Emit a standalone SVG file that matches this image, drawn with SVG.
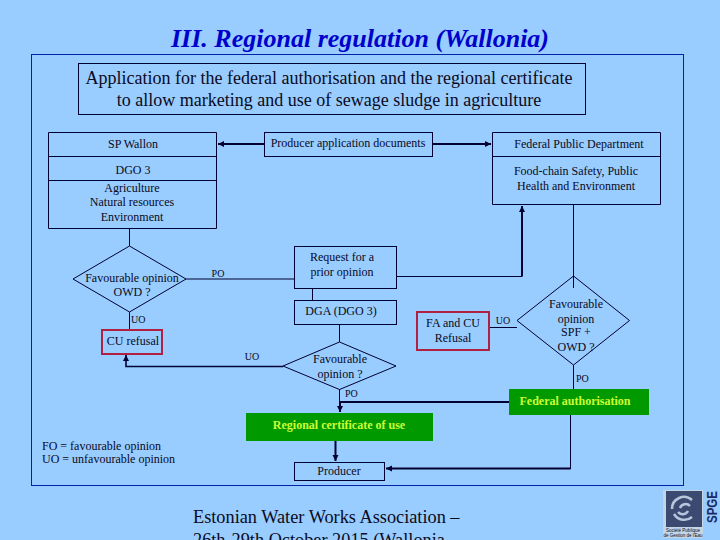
<svg xmlns="http://www.w3.org/2000/svg" width="720" height="540" viewBox="0 0 720 540">
<style>
text{font-family:"Liberation Serif","Times New Roman",serif;fill:#0a0a22;font-size:12px;text-anchor:middle}
.s{fill:none;stroke:#000033;stroke-width:1}
.k{fill:none;stroke:#000033;stroke-width:1.6}
.t{fill:none;stroke:#000033;stroke-width:2}
.r{fill:none;stroke:#b02040;stroke-width:2}
.g{fill:#009900}
.y{fill:#ccff33;font-weight:bold}
.l{text-anchor:start}
.sm{font-size:10px}
</style>
<defs>
<marker id="a" markerUnits="userSpaceOnUse" markerWidth="7" markerHeight="7" refX="6" refY="3.5" orient="auto"><path d="M0 0.500L6 3.500L0 6.500Z" fill="#000033"/></marker>
</defs>
<rect width="720" height="540" fill="#99ccff"/>
<text id="title" x="360" y="47" style="font-size:26px;font-weight:bold;font-style:italic;fill:#0000cc">III. Regional regulation (Wallonia)</text>
<rect id="frame" x="31.500" y="54.500" width="652" height="431" fill="none" stroke="#0022aa" stroke-width="1"/>
<g id="connectors">
<path class="t" d="M264 144H218" marker-end="url(#a)"/>
<path class="t" d="M432 144H491" marker-end="url(#a)"/>
<path class="s" d="M129.500 228.500V246M186 279H294M312.500 288.500V300.500M339.500 324.500V342M129.500 312V330M489 327.500H517M573.500 204.500V288M573.500 365V389M570.500 415V469"/>
<path class="s" d="M396.500 276.500H522"/>
<path class="t" d="M522 276.500V206" marker-end="url(#a)"/>
<path class="k" d="M283 366.500H126V355" marker-end="url(#a)"/>
<path class="s" d="M339.500 389V402"/>
<path class="t" d="M340 402V412" marker-end="url(#a)"/>
<path class="t" d="M340 402H509"/>
<path class="t" d="M335.500 441V461" marker-end="url(#a)"/>
<path class="t" d="M570.500 468.500H386" marker-end="url(#a)"/>
</g>
<g id="application"><rect class="s" x="78.500" y="63.500" width="507" height="51"/>
<text x="329" y="84" style="font-size:18px">Application for the federal authorisation and the regional certificate</text>
<text x="329" y="106" style="font-size:18px">to allow marketing and use of sewage sludge in agriculture</text></g>
<g id="sp-wallon"><path class="s" d="M48.500 132.500H216.500V228.500H48.500ZM48.500 156.500H216.500M48.500 180.500H216.500"/>
<text x="133" y="148">SP Wallon</text><text x="133" y="174">DGO 3</text>
<text x="132" y="192">Agriculture</text><text x="132" y="206">Natural resources</text><text x="132" y="221">Environment</text></g>
<g id="producer-docs"><rect class="s" x="264.500" y="132.500" width="168" height="24"/><text x="348" y="147">Producer application documents</text></g>
<g id="federal"><path class="s" d="M492.500 132.500H660.500V204.500H492.500ZM492.500 156.500H660.500"/>
<text x="579" y="148">Federal Public Department</text><text x="576" y="175">Food-chain Safety, Public</text><text x="576" y="190">Health and Environment</text></g>
<g id="opinion-owd"><path class="s" d="M129.500 246L186 279L129.500 312L73 279Z"/>
<text x="132" y="282">Favourable opinion</text><text x="132" y="296">OWD ?</text></g>
<g id="request"><rect class="s" x="294.500" y="246.500" width="102" height="42"/><text x="342" y="261">Request for a</text><text x="342" y="276">prior opinion</text></g>
<g id="dga"><rect class="s" x="294.500" y="300.500" width="102" height="24"/><text x="341" y="315">DGA (DGO 3)</text></g>
<g id="cu-refusal"><rect class="r" x="102" y="330" width="60" height="24"/><text x="133" y="345">CU refusal</text></g>
<g id="opinion-2"><path class="s" d="M339.500 342L396 366L339.500 389.500L283 366Z"/><text x="340" y="363">Favourable</text><text x="340" y="378">opinion ?</text></g>
<g id="fa-cu"><rect class="r" x="417" y="312" width="72" height="38"/><text x="453" y="327">FA and CU</text><text x="453" y="342">Refusal</text></g>
<g id="opinion-spf"><path class="s" d="M573.500 276L629.500 320.500L573.500 365L517 320.500Z"/>
<text x="576" y="308">Favourable</text><text x="576" y="322.500">opinion</text><text x="576" y="336">SPF +</text><text x="576" y="350.500">OWD ?</text></g>
<g id="federal-auth"><rect class="g" x="509" y="389" width="140" height="26"/><text class="y" x="575" y="405">Federal authorisation</text></g>
<g id="regional-cert"><rect class="g" x="246" y="413" width="187" height="28"/><text class="y" x="339" y="429">Regional certificate of use</text></g>
<g id="producer"><rect class="s" x="294.500" y="462.500" width="90" height="18"/><text x="339" y="475">Producer</text></g>
<g id="labels">
<text class="sm" x="218" y="277">PO</text>
<text class="sm l" x="131" y="323">UO</text>
<text class="sm" x="252" y="360">UO</text>
<text class="sm l" x="345" y="397">PO</text>
<text class="sm" x="503" y="324">UO</text>
<text class="sm l" x="576" y="382">PO</text>
<text class="l" x="42" y="450">FO = favourable opinion</text>
<text class="l" x="42" y="463">UO = unfavourable opinion</text>
</g>
<g id="footer">
<text class="l" x="193" y="523" style="font-size:18.300px">Estonian Water Works Association –</text>
<text class="l" x="193" y="546" style="font-size:18.300px">26th-29th October 2015 (Wallonia</text>
</g>
<g id="logo">
<rect x="663" y="490" width="40" height="48" fill="#c4d6e6"/>
<rect x="666" y="491" width="36" height="36" fill="#3a4a70"/>
<path d="M672 509a12 12 0 0 1 20-9M692 517a12 12 0 0 1-18 -3M680 508a6 6 0 0 1 10-2M688 511a6 6 0 0 1-10 1" fill="none" stroke="#b8c6dc" stroke-width="2.500"/>
<text x="683" y="532" style="font-size:4.500px;font-family:'Liberation Sans',sans-serif">Société Publique</text>
<text x="683" y="537" style="font-size:4.500px;font-family:'Liberation Sans',sans-serif">de Gestion de l'Eau</text>
<text transform="translate(717 523) rotate(-90)" textLength="32" lengthAdjust="spacingAndGlyphs" style="font-size:14.500px;font-weight:bold;text-anchor:start;font-family:'Liberation Sans',sans-serif;fill:#1a2a66">SPGE</text>
</g>
</svg>
